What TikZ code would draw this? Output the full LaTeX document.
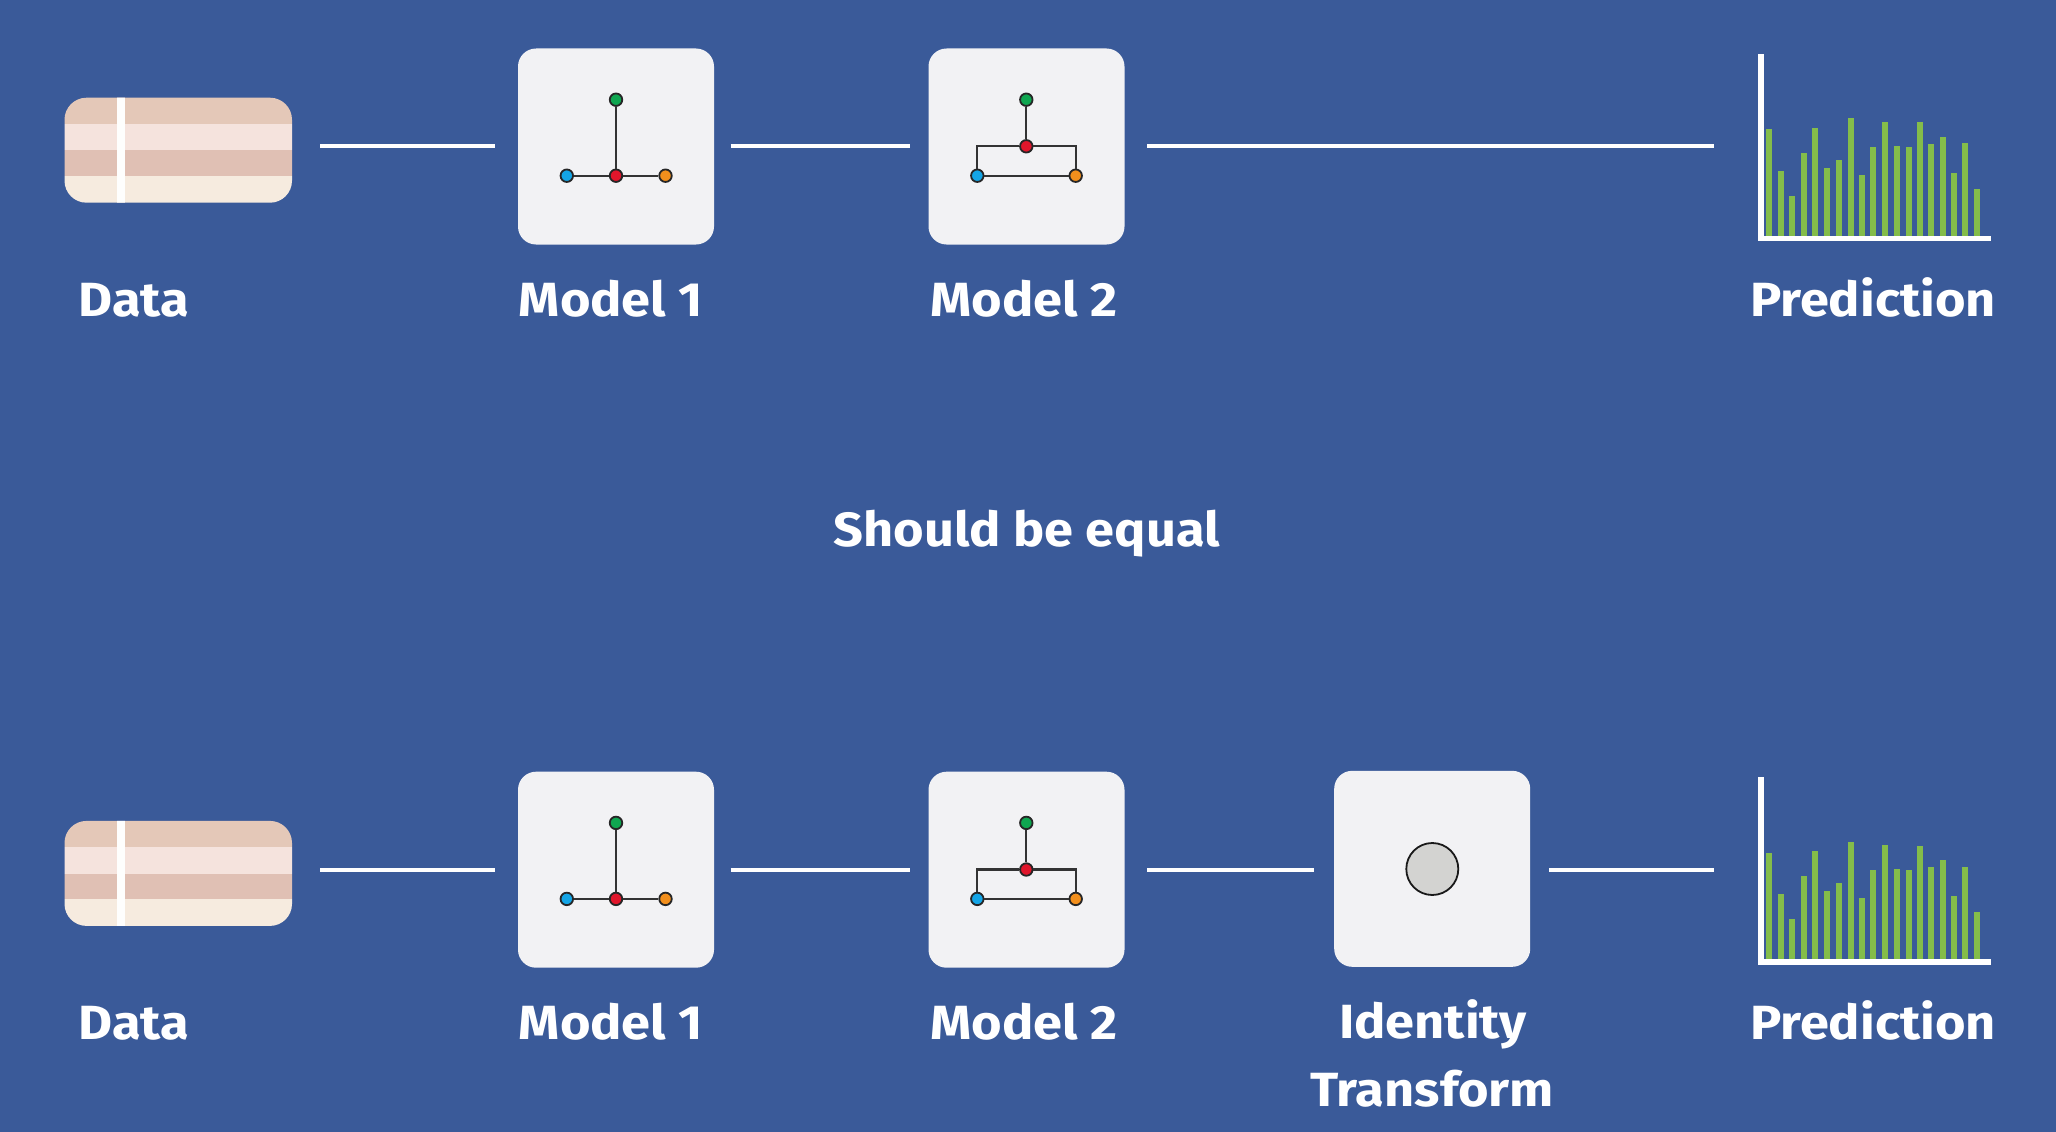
\documentclass[tikz,border=0pt]{standalone}
\usepackage{fontspec}
\setmainfont[FakeStretch=1.09]{Fira Sans}
\definecolor{bgblue}{HTML}{3A5A99}
\definecolor{boxfill}{HTML}{F2F2F4}
\definecolor{bandA}{HTML}{E4C8B8}
\definecolor{bandB}{HTML}{F5E3DD}
\definecolor{bandC}{HTML}{E0C0B4}
\definecolor{bandD}{HTML}{F6EBDF}
\definecolor{barg}{HTML}{84BD4A}
\definecolor{nodegreen}{HTML}{0FA650}
\definecolor{nodered}{HTML}{E0162B}
\definecolor{nodeblue}{HTML}{14A5E6}
\definecolor{nodeorange}{HTML}{F28F1C}
\definecolor{wire}{HTML}{333333}
\definecolor{greydot}{HTML}{D3D3D1}
\tikzset{
  card/.style={draw=none,fill=boxfill,rounded corners=18pt,minimum width=196pt,minimum height=196pt,inner sep=0pt},
  dot/.style={circle,draw=black!85,line width=1.8pt,minimum size=12.5pt,inner sep=0pt},
  conn/.style={draw=white,line width=4pt},
  wireline/.style={draw=wire,line width=2.1pt},
  lab/.style={text=white,anchor=base,inner sep=0pt,font=\fontsize{48}{58}\selectfont\bfseries},
}
\begin{document}
\begin{tikzpicture}[x=1pt,y=-1pt]
\useasboundingbox (0,0) rectangle (2056,1132);
\fill[bgblue] (0,0) rectangle (2056,1132);
\node[lab] (equal) at (1026.7,546.7) {Should be equal};
\foreach \r/\dy in {t/0,b/723.2}{
  % data block
  \begin{scope}
    \clip[rounded corners=22pt] (64.5,97.7+\dy) rectangle (292,202.7+\dy);
    \fill[bandA] (60,97+\dy) rectangle (296,124+\dy);
    \fill[bandB] (60,124+\dy) rectangle (296,150.3+\dy);
    \fill[bandC] (60,150.3+\dy) rectangle (296,176+\dy);
    \fill[bandD] (60,176+\dy) rectangle (296,204+\dy);
    \fill[white!95!bandD] (117.2,97+\dy) rectangle (124.8,204+\dy);
  \end{scope}
  % model 1
  \node[card] (m1\r) at (616,146.5+\dy) {};
  \node[dot,fill=nodegreen] (g1\r) at (616,99.7+\dy) {};
  \node[dot,fill=nodered] (c1\r) at (616,175.7+\dy) {};
  \node[dot,fill=nodeblue] (l1\r) at (566.8,175.7+\dy) {};
  \node[dot,fill=nodeorange] (o1\r) at (665.5,175.7+\dy) {};
  \draw[wireline] (g1\r) -- (c1\r);
  \draw[wireline] (l1\r) -- (c1\r);
  \draw[wireline] (c1\r) -- (o1\r);
  % model 2
  \node[card] (m2\r) at (1026.5,146.5+\dy) {};
  \node[dot,fill=nodegreen] (g2\r) at (1026.3,99.7+\dy) {};
  \node[dot,fill=nodered] (c2\r) at (1026.3,146.3+\dy) {};
  \node[dot,fill=nodeblue] (l2\r) at (977.3,175.7+\dy) {};
  \node[dot,fill=nodeorange] (o2\r) at (1075.7,175.7+\dy) {};
  \draw[wireline] (g2\r) -- (c2\r);
  \draw[wireline] (l2\r) -- (o2\r);
  \draw[wireline] (c2\r) -| (l2\r);
  \draw[wireline] (c2\r) -| (o2\r);
  % connectors
  \coordinate (a\r) at (320.4,146.3+\dy);
  \coordinate (b\r) at (494.5,146.3+\dy);
  \coordinate (d\r) at (730.6,146.3+\dy);
  \coordinate (e\r) at (910,146.3+\dy);
  \coordinate (f\r) at (1147.2,146.3+\dy);
  \coordinate (h\r) at (1714.3,146.3+\dy);
  \draw[conn] (a\r) -- (b\r);
  \draw[conn] (d\r) -- (e\r);
  % chart
  \begin{scope}[shift={(1720,30+\dy)},x=0.33333pt,y=-0.33333pt]
    \foreach \xx/\tt in {147/298,182/423,216/498,251/368,286/293,321/413,356/389,392/265,427/434,460/351,495/276,531/348,566/350,600/277,633/341,668/320,703/428,736/340,771/476}{
      \fill[barg] (\xx-9,\tt) rectangle (\xx+9,620);
    }
    \fill[white] (113,72) rectangle (132,634);
    \fill[white] (113,618) rectangle (813,634);
  \end{scope}
  % labels
  \node[lab] (ld\r) at (133.7,316.7+\dy) {Data};
  \node[lab] (lm\r) at (611,316.7+\dy) {Model 1};
  \node[lab] (ln\r) at (1024,316.7+\dy) {Model 2};
  \node[lab] (lp\r) at (1873,316.7+\dy) {Prediction};
}
\draw[conn] (ft) -- (ht);
\coordinate (i1) at (1313.7,869.5);
\coordinate (i2) at (1549.3,869.5);
\draw[conn] (fb) -- (i1);
\draw[conn] (i2) -- (hb);
\node[card] (idbox) at (1432.2,868.8) {};
\node[circle,draw=black!90,line width=1.8pt,fill=greydot,minimum size=52pt,inner sep=0pt] (idc) at (1432.3,869) {};
\node[lab] (li) at (1433,1038) {Identity};
\node[lab] (lt) at (1432,1106) {Transform};
\end{tikzpicture}
\end{document}
